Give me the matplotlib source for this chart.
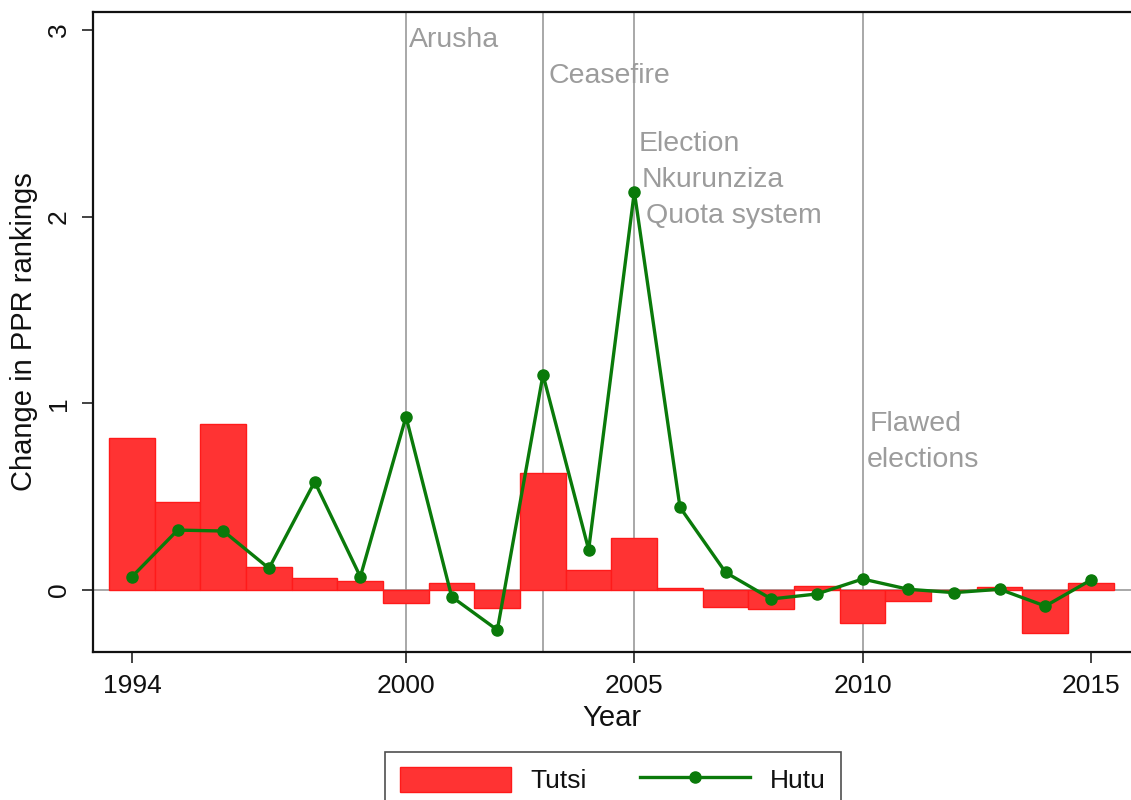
import matplotlib
matplotlib.use("Agg")
import matplotlib.pyplot as plt

plt.rcParams['font.family'] = ['Liberation Sans', 'DejaVu Sans']

years = list(range(1994, 2016))
tutsi = [0.813, 0.473, 0.889, 0.125, 0.066, 0.048, -0.068, 0.039, -0.098, 0.627,
         0.107, 0.279, 0.012, -0.093, -0.102, 0.023, -0.179, -0.059, 0.0, 0.018,
         -0.229, 0.039]
hutu = [0.071, 0.321, 0.316, 0.116, 0.580, 0.071, 0.928, -0.036, -0.214, 1.153,
        0.216, 2.133, 0.443, 0.094, -0.048, -0.021, 0.059, 0.004, -0.014, 0.004,
        -0.086, 0.054]

event_years = [2000, 2003, 2005, 2010]
event_labels = ["Arusha", "Ceasefire", "Election", "Nkurunziza", "Quota system",
                "Flawed", "elections"]
label_pos = [(2000.07, 2.908), (2003.13, 2.716), (2005.10, 2.351), (2005.17, 2.159),
             (2005.25, 1.966), (2010.16, 0.852), (2010.09, 0.659)]

xticks = [1994, 2000, 2005, 2010, 2015]
yticks = [0, 1, 2, 3]

fig = plt.figure(figsize=(11.31, 8.0), dpi=100)
ax = fig.add_axes([93/1131, 1 - 652/800, (1131 - 93)/1131, (652 - 12)/800])

grey = '#9c9c9c'
for ey in event_years:
    ax.axvline(ey, color='#999999', lw=1.2, zorder=1)
ax.axhline(0, color='#999999', lw=1.2, zorder=1)

bars = ax.bar(years, tutsi, width=1.0, color='#ff3333', edgecolor='#ff1a1a', linewidth=1.0,
              zorder=2, label='Tutsi')
line, = ax.plot(years, hutu, color='#0a7a0a', lw=2.4, marker='o', markersize=8,
                markerfacecolor='#0a7a0a', markeredgecolor='#0a7a0a', zorder=3, label='Hutu')

for txt, (px, py) in zip(event_labels, label_pos):
    ax.text(px, py, txt, color=grey, fontsize=20.5, ha='left', va='baseline', zorder=4)

ax.set_xlim(1993.146, 2015.876)
ax.set_ylim(-0.332, 3.096)
ax.set_xticks(xticks)
ax.set_yticks(yticks)
ax.set_xticklabels([str(t) for t in xticks], fontsize=19)
ax.set_yticklabels([str(t) for t in yticks], fontsize=19, rotation=90, va='center')
ax.tick_params(axis='both', length=8, width=1.2, color='#222222', labelcolor='#111111')
ax.tick_params(axis='x', pad=8)
ax.tick_params(axis='y', pad=8)

for s in ['left', 'bottom', 'top']:
    ax.spines[s].set_linewidth(1.6)
    ax.spines[s].set_color('#111111')
ax.spines['right'].set_visible(False)

ax.set_xlabel('Year', fontsize=21, labelpad=4, color='#111111')
ax.set_ylabel('Change in PPR rankings', fontsize=21, labelpad=6, color='#111111')

leg = fig.legend(handles=[bars, line], labels=['Tutsi', 'Hutu'],
                 loc='upper center', bbox_to_anchor=(613/1131, 1 - 752/800), ncol=2,
                 fontsize=19, frameon=True, fancybox=False, handlelength=4.2,
                 handleheight=1.1, handletextpad=0.75, columnspacing=2.0,
                 borderpad=0.55, borderaxespad=0)
leg.get_frame().set_edgecolor('#222222')
leg.get_frame().set_linewidth(1.2)
for t in leg.get_texts():
    t.set_color('#111111')

fig.savefig('out.png', dpi=100)
